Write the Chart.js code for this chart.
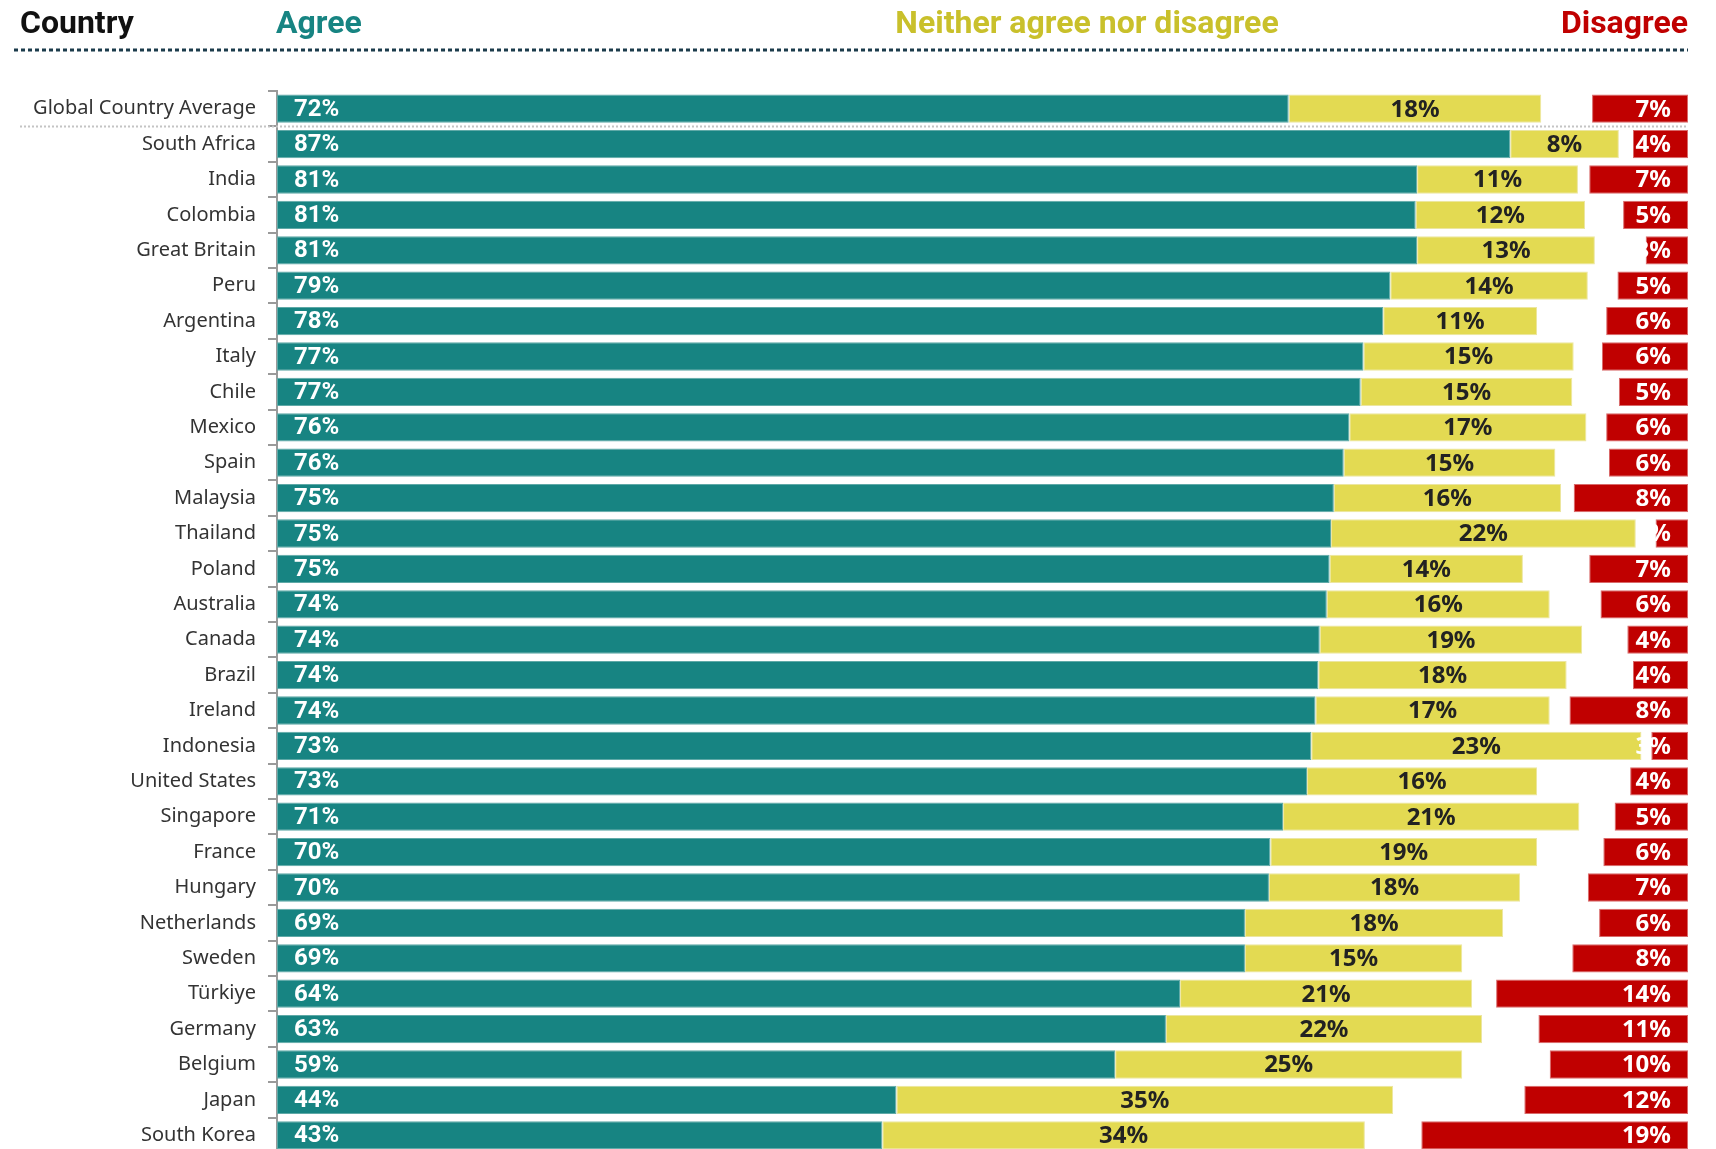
<!DOCTYPE html>
<html>
<head>
<meta charset="utf-8">
<script src="https://cdn.jsdelivr.net/npm/chart.js@4/dist/chart.umd.min.js"></script>
<style>
html,body{margin:0;padding:0;background:#fff;overflow:hidden}
#wrap{position:relative;width:1716px;height:1177px}
</style>
</head>
<body>
<div id="wrap"><canvas id="c"></canvas></div>
<script>
const countries = ['Global Country Average','South Africa','India','Colombia','Great Britain','Peru','Argentina','Italy','Chile','Mexico','Spain','Malaysia','Thailand','Poland','Australia','Canada','Brazil','Ireland','Indonesia','United States','Singapore','France','Hungary','Netherlands','Sweden','Türkiye','Germany','Belgium','Japan','South Korea'];
const agree    = [71.7,87.4,80.8,80.7,80.8,78.9,78.4,77.0,76.8,76.0,75.6,74.9,74.7,74.6,74.4,73.9,73.8,73.6,73.3,73.0,71.3,70.4,70.3,68.6,68.6,64.0,63.0,59.4,43.9,42.9];
const neither  = [17.9,7.7,11.4,12.0,12.6,14.0,10.9,14.9,15.0,16.8,15.0,16.1,21.6,13.7,15.8,18.6,17.6,16.6,23.4,16.3,21.0,18.9,17.8,18.3,15.4,20.7,22.4,24.6,35.2,34.2];
const disagree = [6.8,3.9,7.0,4.6,3.0,5.0,5.8,6.1,4.9,5.8,5.6,8.1,2.3,7.0,6.2,4.3,3.9,8.4,2.6,4.1,5.2,6.0,7.1,6.3,8.2,13.6,10.6,9.8,11.6,18.9];
const headerTitles = ['Country','Agree','Neither agree nor disagree','Disagree'];

const gap = agree.map((a,i) => Math.max(0, 100 - a - neither[i] - disagree[i]));

const TEAL = '#178482', YELLOW = '#e3da52', RED = '#c00000';

const overlay = {
  id: 'overlay',
  afterDatasetsDraw(chart) {
    const ctx = chart.ctx;
    const ca = chart.chartArea;
    const m0 = chart.getDatasetMeta(0), m1 = chart.getDatasetMeta(1), m3 = chart.getDatasetMeta(3);
    ctx.save();
    // separator under global average
    const ySep = (m0.data[0].y + m0.data[1].y) / 2;
    ctx.beginPath();
    ctx.setLineDash([2,2]);
    ctx.lineWidth = 2;
    ctx.strokeStyle = '#c4c4c4';
    ctx.moveTo(20, ySep); ctx.lineTo(ca.right, ySep);
    ctx.stroke();
    ctx.setLineDash([]);
    ctx.textBaseline = 'middle';
    for (let i = 0; i < countries.length; i++) {
      const e0 = m0.data[i], e1 = m1.data[i], e3 = m3.data[i];
      const y = e0.y + 1;
      ctx.font = 'bold 24px Roboto';
      ctx.fillStyle = '#ffffff';
      ctx.textAlign = 'left';
      ctx.fillText(Math.round(agree[i]) + '%', e0.base + 17, y);
      ctx.font = 'bold 24px "Noto Sans"';
      ctx.fillStyle = '#222222';
      ctx.textAlign = 'center';
      ctx.fillText(Math.round(neither[i]) + '%', (e1.base + e1.x) / 2, y);
      ctx.fillStyle = '#ffffff';
      ctx.textAlign = 'right';
      ctx.fillText(Math.round(disagree[i]) + '%', e3.x - 17, y);
    }
    // header
    ctx.font = 'bold 32px Roboto';
    ctx.textBaseline = 'middle';
    ctx.textAlign = 'left';
    ctx.fillStyle = '#111111';
    ctx.fillText(headerTitles[0], 20, 25);
    ctx.fillStyle = TEAL;
    ctx.fillText(headerTitles[1], 276, 25);
    ctx.fillStyle = '#c9c02b';
    ctx.textAlign = 'center';
    ctx.fillText(headerTitles[2], 1087, 25);
    ctx.fillStyle = RED;
    ctx.textAlign = 'right';
    ctx.fillText(headerTitles[3], ca.right, 25);
    // dotted header rule
    ctx.beginPath();
    ctx.setLineDash([4,3]);
    ctx.lineWidth = 3;
    ctx.strokeStyle = '#1b3b4b';
    ctx.moveTo(14, 50); ctx.lineTo(ca.right, 50);
    ctx.stroke();
    ctx.restore();
  }
};

new Chart(document.getElementById('c'), {
  type: 'bar',
  data: {
    labels: countries,
    datasets: [
      {label: 'Agree', data: agree, backgroundColor: TEAL, borderColor: '#5fa9a7', borderWidth: 1, borderSkipped: false},
      {label: 'Neither agree nor disagree', data: neither, backgroundColor: YELLOW, borderColor: '#ece6a0', borderWidth: 1, borderSkipped: false},
      {label: 'gap', data: gap, backgroundColor: 'rgba(0,0,0,0)', borderWidth: 0},
      {label: 'Disagree', data: disagree, backgroundColor: RED, borderColor: '#d96a6a', borderWidth: 1, borderSkipped: false}
    ]
  },
  options: {
    indexAxis: 'y',
    responsive: true,
    maintainAspectRatio: false,
    animation: false,
    layout: {padding: {top: 91, right: 28, bottom: 7, left: 0}},
    datasets: {bar: {categoryPercentage: 1, barPercentage: 0.8}},
    scales: {
      x: {stacked: true, min: 0, max: 100, display: false},
      y: {
        stacked: true,
        grid: {offset: true, drawOnChartArea: false, drawTicks: true, tickLength: 9, color: '#9a9a9a', lineWidth: 2},
        border: {display: true, color: '#9a9a9a', width: 2},
        ticks: {font: {family: 'Noto Sans', size: 20}, color: '#333333', padding: 12, autoSkip: false},
        afterFit(s) { s.width = 277; }
      }
    },
    plugins: {legend: {display: false}, tooltip: {enabled: false}}
  },
  plugins: [overlay]
});
</script>
</body>
</html>
